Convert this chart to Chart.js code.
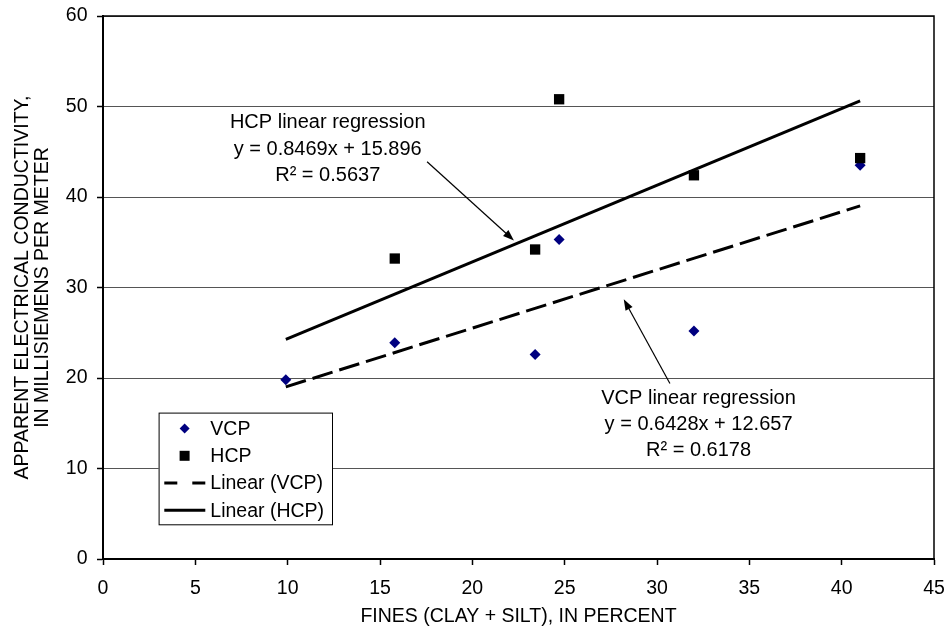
<!DOCTYPE html>
<html>
<head>
<meta charset="utf-8">
<script src="https://cdn.jsdelivr.net/npm/chart.js@4.4.1/dist/chart.umd.min.js"></script>
<style>
  html, body { margin: 0; padding: 0; background: #fff; }
  canvas { display: block; }
</style>
</head>
<body>
<canvas id="chart" width="947" height="628"></canvas>
<script>
// values
const fines = [9.9, 15.8, 23.4, 24.7, 32.0, 41.0];
const vcp = [19.8, 23.9, 22.6, 35.3, 25.2, 43.5];
const hcp = [14.8, 33.2, 34.2, 50.8, 42.4, 44.3]; // first HCP point is hidden behind the legend
const xTicks = [0, 5, 10, 15, 20, 25, 30, 35, 40, 45];
const yTicks = [0, 10, 20, 30, 40, 50, 60];

// regression results printed on the figure
const vcpFit = { slope: 0.6428, intercept: 12.657, r2: "0.6178" };
const hcpFit = { slope: 0.8469, intercept: 15.896, r2: "0.5637" };

const FONT = 'Arial, "Liberation Sans", sans-serif';

function points(ys) {
  return fines.map((f, i) => ({ x: f, y: ys[i] }));
}

function trend(fit) {
  const lo = Math.min(...fines), hi = Math.max(...fines);
  return [
    { x: lo, y: fit.slope * lo + fit.intercept },
    { x: hi, y: fit.slope * hi + fit.intercept }
  ];
}

function drawArrow(ctx, x1, y1, x2, y2) {
  const ang = Math.atan2(y2 - y1, x2 - x1);
  const len = 11, half = 4;
  ctx.save();
  ctx.strokeStyle = "#000";
  ctx.fillStyle = "#000";
  ctx.lineWidth = 1.2;
  ctx.beginPath();
  ctx.moveTo(x1, y1);
  ctx.lineTo(x2 - Math.cos(ang) * len * 0.8, y2 - Math.sin(ang) * len * 0.8);
  ctx.stroke();
  ctx.beginPath();
  ctx.moveTo(x2, y2);
  ctx.lineTo(x2 - Math.cos(ang) * len - Math.sin(ang) * half, y2 - Math.sin(ang) * len + Math.cos(ang) * half);
  ctx.lineTo(x2 - Math.cos(ang) * len + Math.sin(ang) * half, y2 - Math.sin(ang) * len - Math.cos(ang) * half);
  ctx.closePath();
  ctx.fill();
  ctx.restore();
}

function noteBlock(ctx, cx, cy, lines) {
  ctx.save();
  ctx.fillStyle = "#000";
  ctx.font = "20px " + FONT;
  ctx.textAlign = "center";
  ctx.textBaseline = "middle";
  lines.forEach((t, i) => ctx.fillText(t, cx, cy + i * 26.2));
  ctx.restore();
}

// plot frame, regression notes and arrows
const notes = {
  id: "notes",
  afterDatasetsDraw(chart) {
    const { ctx, chartArea: a, scales: { x, y } } = chart;
    ctx.save();
    ctx.strokeStyle = "#000";
    ctx.lineWidth = 1.5;
    ctx.beginPath();
    ctx.moveTo(a.left, a.top);
    ctx.lineTo(a.right, a.top);
    ctx.lineTo(a.right, a.bottom);
    ctx.stroke();
    ctx.restore();

    noteBlock(ctx, x.getPixelForValue(12.17), y.getPixelForValue(48.2), [
      "HCP linear regression",
      "y = " + hcpFit.slope + "x + " + hcpFit.intercept,
      "R\u00B2 = " + hcpFit.r2
    ]);
    drawArrow(ctx, x.getPixelForValue(17.55), y.getPixelForValue(43.9),
                   x.getPixelForValue(22.25), y.getPixelForValue(35.2));

    noteBlock(ctx, x.getPixelForValue(32.25), y.getPixelForValue(17.75), [
      "VCP linear regression",
      "y = " + vcpFit.slope + "x + " + vcpFit.intercept,
      "R\u00B2 = " + vcpFit.r2
    ]);
    drawArrow(ctx, x.getPixelForValue(30.7), y.getPixelForValue(19.4),
                   x.getPixelForValue(28.2), y.getPixelForValue(28.7));
  }
};

// boxed legend sitting inside the plot, like the spreadsheet original
const boxLegend = {
  id: "boxLegend",
  afterDraw(chart) {
    const { ctx, chartArea: a } = chart;
    const left = a.left + 55.6, top = a.top + 396.6, w = 173.4, h = 111.7;
    ctx.save();
    ctx.fillStyle = "#fff";
    ctx.fillRect(left, top, w, h);
    ctx.strokeStyle = "#000";
    ctx.lineWidth = 1;
    ctx.strokeRect(left + 0.5, top + 0.5, w, h);

    const items = [
      { label: "VCP", kind: "diamond" },
      { label: "HCP", kind: "square" },
      { label: "Linear (VCP)", kind: "dash" },
      { label: "Linear (HCP)", kind: "solid" }
    ];
    ctx.font = "19.5px " + FONT;
    ctx.textBaseline = "middle";
    ctx.textAlign = "left";
    items.forEach((it, i) => {
      const cy = top + 16 + i * 27.2;
      const sx = left + 26;
      if (it.kind === "diamond") {
        ctx.fillStyle = "#000080";
        ctx.beginPath();
        ctx.moveTo(sx - 5, cy); ctx.lineTo(sx, cy - 5);
        ctx.lineTo(sx + 5, cy); ctx.lineTo(sx, cy + 5);
        ctx.closePath(); ctx.fill();
      } else if (it.kind === "square") {
        ctx.fillStyle = "#000";
        ctx.fillRect(sx - 5, cy - 5, 10, 10);
      } else {
        ctx.strokeStyle = "#000";
        ctx.lineWidth = 3;
        ctx.setLineDash(it.kind === "dash" ? [13, 15] : []);
        ctx.beginPath();
        ctx.moveTo(left + 5.7, cy); ctx.lineTo(left + 46.7, cy);
        ctx.stroke();
        ctx.setLineDash([]);
      }
      ctx.fillStyle = "#000";
      ctx.fillText(it.label, left + 51.7, cy + 1);
    });
    ctx.restore();
  }
};

new Chart(document.getElementById("chart"), {
  type: "scatter",
  data: {
    datasets: [
      {
        label: "VCP", data: points(vcp), order: 1,
        pointStyle: "rectRot", pointRadius: 5.5, pointHoverRadius: 5.5,
        backgroundColor: "#000080", borderColor: "#000080", borderWidth: 0
      },
      {
        label: "HCP", data: points(hcp), order: 0,
        pointStyle: "rect", pointRadius: 7.3, pointHoverRadius: 7.3,
        backgroundColor: "#000", borderColor: "#000", borderWidth: 0
      },
      {
        label: "Linear (VCP)", data: trend(vcpFit), order: 2,
        showLine: true, pointRadius: 0, borderColor: "#000", borderWidth: 3,
        borderDash: [21, 7]
      },
      {
        label: "Linear (HCP)", data: trend(hcpFit), order: 3,
        showLine: true, pointRadius: 0, borderColor: "#000", borderWidth: 3
      }
    ]
  },
  options: {
    responsive: false,
    animation: false,
    layout: { padding: { top: 16, right: 13, left: 0, bottom: 0 } },
    plugins: {
      legend: { display: false },
      tooltip: { enabled: false }
    },
    scales: {
      x: {
        type: "linear", min: 0, max: 45,
        afterFit: (s) => { s.height = 69; s.paddingLeft = 0; s.paddingRight = 0; },
        afterBuildTicks: (s) => { s.ticks = xTicks.map(v => ({ value: v })); },
        border: { display: true, color: "#000", width: 2 },
        grid: { drawOnChartArea: false, drawTicks: true, tickLength: 6, tickColor: "#000", tickWidth: 1.5 },
        ticks: { color: "#000", padding: 11.5, font: { family: FONT, size: 19.5 } },
        title: {
          display: true, text: "FINES (CLAY + SILT), IN PERCENT",
          color: "#000", padding: 0, font: { family: FONT, size: 19.5 }
        }
      },
      y: {
        type: "linear", min: 0, max: 60,
        afterFit: (s) => { s.width = 103; s.paddingTop = 0; s.paddingBottom = 0; },
        afterBuildTicks: (s) => { s.ticks = yTicks.map(v => ({ value: v })); },
        border: { display: true, color: "#000", width: 2 },
        grid: { color: "#555", lineWidth: 1, drawTicks: true, tickLength: 6, tickColor: "#000", tickWidth: 1.5 },
        ticks: { color: "#000", padding: 9.5, font: { family: FONT, size: 19.5 } },
        title: {
          display: true,
          text: ["APPARENT ELECTRICAL CONDUCTIVITY,", "IN MILLISIEMENS PER METER"],
          color: "#000", padding: { top: 12, bottom: 0 },
          font: { family: FONT, size: 19.5, lineHeight: "20.6px" }
        }
      }
    }
  },
  plugins: [notes, boxLegend]
});
</script>
</body>
</html>
